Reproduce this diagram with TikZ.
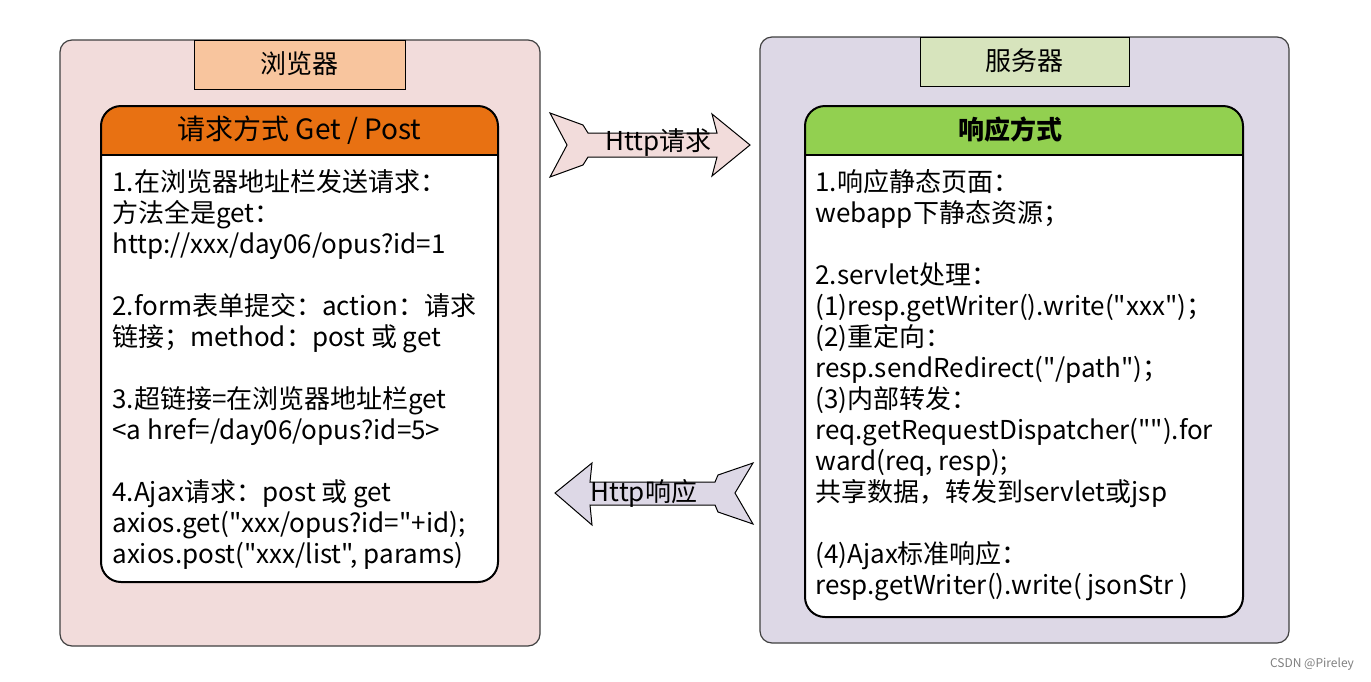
\documentclass[tikz,border=0pt]{standalone}
\usepackage{fontspec}
\setmainfont{Noto Sans CJK SC}[Ligatures=TeXOff]
\usepackage{tikz}
\definecolor{mistyrose}{RGB}{242, 220, 219}
\definecolor{peach}{RGB}{248, 197, 158}
\definecolor{pumpkin}{RGB}{232, 113, 18}
\definecolor{lavender}{RGB}{221, 216, 230}
\definecolor{sage}{RGB}{215, 228, 189}
\definecolor{grass}{RGB}{146, 208, 80}
\definecolor{slate}{RGB}{64, 64, 64}

\tikzset{
    txt/.style    = {font=\fontsize{13}{15.5}\selectfont, inner sep=0pt},
    bodytext/.style = {txt, anchor=north west, align=left},
    outerbox/.style = {draw=slate, line width=0.6pt, rounded corners=6pt},
    titlebox/.style = {draw=black, line width=0.5pt},
    innerbox/.style = {draw=black, line width=1pt, rounded corners=10pt},
    bigarrow/.style = {draw=black, line width=0.5pt}
}

\begin{document}
\begin{tikzpicture}[x=0.5pt, y=-0.5pt]
    \fill[white] (0,0) rectangle (1371,681);
    \useasboundingbox (0,0) rectangle (1371,681);
    % browser side
    \filldraw[outerbox, fill=mistyrose]                     (  60, 40) rectangle ( 540,646);
    \filldraw[titlebox, fill=peach]                         ( 194, 40) rectangle ( 405, 89);
    \node[txt] (browser) at (299.5,64) {浏览器};
    \fill[white, rounded corners=10pt]                      ( 101,106) rectangle ( 498,582);
    \fill[pumpkin] (101,155) {[rounded corners=10pt] -- (101,106) -- (498,106)} -- (498,155) -- cycle;
    \draw[innerbox]                                         ( 101,106) rectangle ( 498,582);
    \draw[line width=1pt]                                   ( 101,155) -- ( 498,155);
    \node[txt, font=\fontsize{14}{16}\selectfont] (reqhead) at (299.5,130) {请求方式 Get / Post};
    \node[bodytext] (reqtext) at (112,169) {%
        1.在浏览器地址栏发送请求：\\
        方法全是get：\\
        http://xxx/day06/opus?id=1\\[15.5pt]
        2.form表单提交：action：请求\\
        链接；method：post 或 get\\[15.5pt]
        3.超链接=在浏览器地址栏get\\
        <a href=/day06/opus?id=5>\\[15.5pt]
        4.Ajax请求：post 或 get\\
        axios.get("xxx/opus?id="+id);\\
        axios.post("xxx/list", params)};
    % server side
    \filldraw[outerbox, fill=lavender]                      ( 760, 37) rectangle (1289,643);
    \filldraw[titlebox, fill=sage]                          ( 920, 37) rectangle (1129, 86);
    \node[txt] (server) at (1024.5,61) {服务器};
    \fill[white, rounded corners=10pt]                      ( 805,106) rectangle (1243,617);
    \fill[grass] (805,155) {[rounded corners=10pt] -- (805,106) -- (1243,106)} -- (1243,155) -- cycle;
    \draw[innerbox]                                         ( 805,106) rectangle (1243,617);
    \draw[line width=1pt]                                   ( 805,155) -- (1243,155);
    \node[txt, font=\fontsize{13}{15.5}\selectfont\bfseries] (resphead) at (1010,130) {响应方式};
    \node[bodytext] (resptext) at (815,169) {%
        1.响应静态页面：\\
        webapp下静态资源；\\[15.5pt]
        2.servlet处理：\\
        (1)resp.getWriter().write("xxx")；\\
        (2)重定向：\\
        resp.sendRedirect("/path")；\\
        (3)内部转发：\\
        req.getRequestDispatcher("").for\\
        ward(req, resp);\\
        共享数据，转发到servlet或jsp\\[15.5pt]
        (4)Ajax标准响应：\\
        resp.getWriter().write( jsonStr )};
    % request / response arrows
    \filldraw[bigarrow, fill=mistyrose] (550,113) -- (583,125) -- (588,133) -- (717,133) -- (712,114)
        -- (750,145) -- (712,176) -- (717,157) -- (588,157) -- (583,165) -- (550,177) -- (567,145) -- cycle;
    \node[txt] (httpreq) at (658.5,143) {Http请求};
    \filldraw[bigarrow, fill=lavender] (555,493) -- (592,463) -- (590,482) -- (715,482) -- (718,475)
        -- (753,463) -- (735,493) -- (753,524) -- (718,512) -- (715,505) -- (590,505) -- (592,525) -- cycle;
    \node[txt] (httpresp) at (644,493) {Http响应};
    \node[font=\fontsize{6}{7}\selectfont, text=gray, inner sep=0pt] (mark) at (1312,664) {CSDN @Pireley};
\end{tikzpicture}
\end{document}
